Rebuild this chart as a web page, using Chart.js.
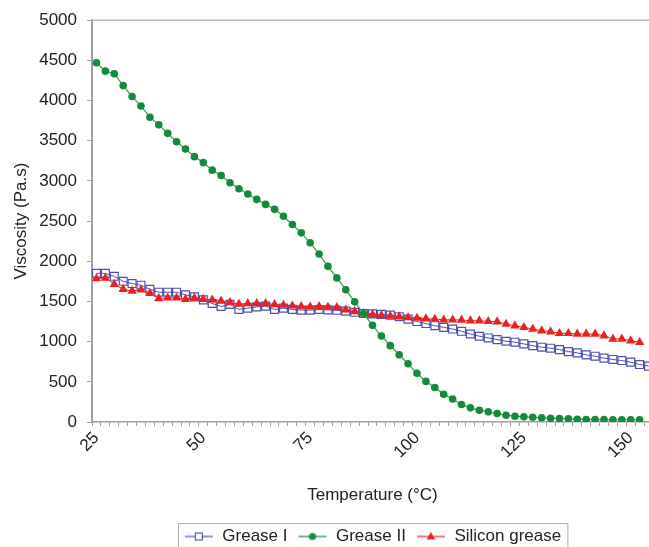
<!DOCTYPE html>
<html>
<head>
<meta charset="utf-8">
<script src="https://cdn.jsdelivr.net/npm/chart.js"></script>
<style>
  html, body { margin: 0; padding: 0; background: #fff; overflow: hidden; }
  #wrap { width: 665px; height: 556px; }
</style>
</head>
<body>
<div id="wrap"><canvas id="myChart" width="665" height="556"></canvas></div>
<script>
// temperature (°C) for each measured point
const temperatures = [
  25.0, 27.1, 29.2, 31.3, 33.3, 35.4, 37.5, 39.6, 41.7, 43.8, 45.8, 47.9,
  50.0, 52.1, 54.2, 56.3, 58.3, 60.4, 62.5, 64.6, 66.7, 68.8, 70.8, 72.9,
  75.0, 77.1, 79.2, 81.3, 83.3, 85.4, 87.5, 89.6, 91.7, 93.8, 95.8, 97.9,
  100.0, 102.1, 104.2, 106.3, 108.3, 110.4, 112.5, 114.6, 116.7, 118.8, 120.8, 122.9,
  125.0, 127.1, 129.2, 131.3, 133.3, 135.4, 137.5, 139.6, 141.7, 143.8, 145.8, 147.9,
  150.0, 152.1, 154.2
];

// viscosity (Pa.s)
const greaseI = [
  1850, 1850, 1813, 1751, 1723, 1702, 1652, 1615, 1615, 1615, 1582, 1557,
  1520, 1475, 1438, 1463, 1401, 1417, 1433, 1442, 1401, 1417, 1401, 1392,
  1392, 1400, 1395, 1390, 1380, 1365, 1350, 1345, 1340, 1330, 1310, 1280,
  1250, 1225, 1198, 1178, 1157, 1129, 1095, 1067, 1046, 1025, 1005, 993,
  972, 950, 931, 918, 901, 876, 860, 835, 819, 795, 778, 765,
  745, 715, 696
];

const greaseII = [
  4470, 4366, 4334, 4186, 4050, 3933, 3793, 3698, 3592, 3488, 3397, 3302,
  3228, 3134, 3067, 2977, 2902, 2837, 2770, 2708, 2646, 2560, 2457, 2354,
  2230, 2090, 1937, 1793, 1646, 1495, 1349, 1203, 1070, 950, 837, 724,
  606, 505, 430, 345, 285, 217, 176, 146, 126, 105, 84, 72,
  64, 59, 52, 47, 43, 40, 35, 32, 30, 30, 28, 28,
  28, 28
];

const siliconGrease = [
  1785, 1792, 1714, 1652, 1631, 1644, 1603, 1537, 1545, 1545, 1528, 1541,
  1528, 1520, 1504, 1488, 1467, 1475, 1475, 1475, 1463, 1454, 1446, 1438,
  1433, 1438, 1430, 1425, 1395, 1375, 1350, 1335, 1325, 1318, 1310, 1300,
  1292, 1285, 1281, 1272, 1272, 1269, 1260, 1260, 1252, 1248, 1219, 1198,
  1178, 1157, 1136, 1124, 1104, 1104, 1095, 1095, 1095, 1074, 1033, 1033,
  1012, 993
];

const blue = '#4f4fb3';
const green = '#148a3c';
const red = '#e8231f';

Chart.defaults.font.family = '"Liberation Sans", Arial, sans-serif';
Chart.defaults.font.size = 17;
Chart.defaults.color = '#222';

// little "line + marker" pictures for the legend
function legendIcon(color, shape) {
  const c = document.createElement('canvas');
  c.width = 30; c.height = 14;
  const g = c.getContext('2d');
  g.strokeStyle = color;
  g.fillStyle = color;
  g.lineWidth = 1.2;
  g.beginPath(); g.moveTo(1, 7); g.lineTo(29, 7); g.stroke();
  if (shape === 'rect') {
    g.fillStyle = '#fff';
    g.fillRect(11.5, 3.5, 7, 7);
    g.strokeRect(11.5, 3.5, 7, 7);
  } else if (shape === 'circle') {
    g.beginPath(); g.arc(15, 7, 3.6, 0, Math.PI * 2); g.fill();
  } else {
    g.beginPath(); g.moveTo(15, 2.5); g.lineTo(19.3, 10); g.lineTo(10.7, 10); g.closePath(); g.fill();
  }
  return c;
}
const icons = [legendIcon(blue, 'rect'), legendIcon(green, 'circle'), legendIcon(red, 'tri')];

const frame = {
  id: 'frame',
  afterDraw(chart) {
    const {ctx, chartArea} = chart;
    ctx.save();
    ctx.strokeStyle = '#bcbcbc';
    ctx.lineWidth = 1.5;
    ctx.beginPath();
    ctx.moveTo(chartArea.left, chartArea.top);
    ctx.lineTo(chartArea.right, chartArea.top);
    ctx.stroke();
    const boxes = chart.legend.legendHitBoxes;
    const l = Math.min(...boxes.map(b => b.left)) - 6;
    const r = Math.max(...boxes.map(b => b.left + b.width)) + 6;
    const t = Math.min(...boxes.map(b => b.top)) - 5;
    const bt = Math.max(...boxes.map(b => b.top + b.height)) + 6;
    ctx.strokeStyle = '#b0b0b0';
    ctx.lineWidth = 1;
    ctx.strokeRect(Math.round(l) + 0.5, Math.round(t) + 0.5, r - l, bt - t);
    ctx.restore();
  }
};

new Chart('myChart', {
  type: 'line',
  data: {
    labels: temperatures,
    datasets: [
      {
        label: 'Grease I',
        data: greaseI,
        borderColor: blue,
        borderWidth: 1,
        pointStyle: 'rect',
        pointRadius: 5.6,
        pointBorderWidth: 1.2,
        pointBorderColor: blue,
        pointBackgroundColor: 'rgba(0,0,0,0)',
        order: 3
      },
      {
        label: 'Grease II',
        data: greaseII,
        borderColor: '#3c9a4c',
        borderWidth: 1.2,
        pointStyle: 'circle',
        pointRadius: 3.8,
        pointBorderWidth: 0,
        pointBackgroundColor: green,
        order: 1
      },
      {
        label: 'Silicon grease',
        data: siliconGrease,
        borderColor: red,
        borderWidth: 1,
        pointStyle: 'triangle',
        pointRadius: 5.4,
        pointBorderWidth: 0,
        pointBackgroundColor: red,
        order: 2
      }
    ]
  },
  options: {
    responsive: false,
    animation: false,
    layout: { padding: { top: 19, right: 4, bottom: 1, left: 0 } },
    plugins: {
      tooltip: { enabled: false },
      legend: {
        position: 'bottom',
        fullSize: false,
        labels: {
          usePointStyle: true,
          pointStyleWidth: 30,
          padding: 10,
          generateLabels(chart) {
            const items = Chart.defaults.plugins.legend.labels.generateLabels(chart);
            items.sort((a, b) => a.datasetIndex - b.datasetIndex);
            items.forEach(it => { it.pointStyle = icons[it.datasetIndex]; });
            return items;
          }
        }
      }
    },
    scales: {
      x: {
        offset: true,
        grid: { offset: true, drawOnChartArea: false, tickLength: 4, color: '#a0a0a0' },
        border: { color: '#a0a0a0', width: 1.5 },
        ticks: {
          autoSkip: false,
          minRotation: 45,
          maxRotation: 45,
          padding: 2,
          callback(v, i) { return i % 12 === 0 ? String(Math.round(temperatures[i])) : ''; }
        },
        title: { display: true, text: 'Temperature (°C)', padding: { top: 4, bottom: 12 } },
        afterFit(scale) { scale.height = 96; }
      },
      y: {
        min: 0,
        max: 5000,
        grid: { drawOnChartArea: false, tickLength: 5, color: '#a0a0a0' },
        border: { color: '#a0a0a0', width: 2 },
        ticks: { stepSize: 500, padding: 10, callback: v => String(v) },
        title: { display: true, text: 'Viscosity (Pa.s)', padding: { top: 11, bottom: 0 } },
        afterFit(scale) { scale.width = 92; }
      }
    }
  },
  plugins: [frame]
});
</script>
</body>
</html>
